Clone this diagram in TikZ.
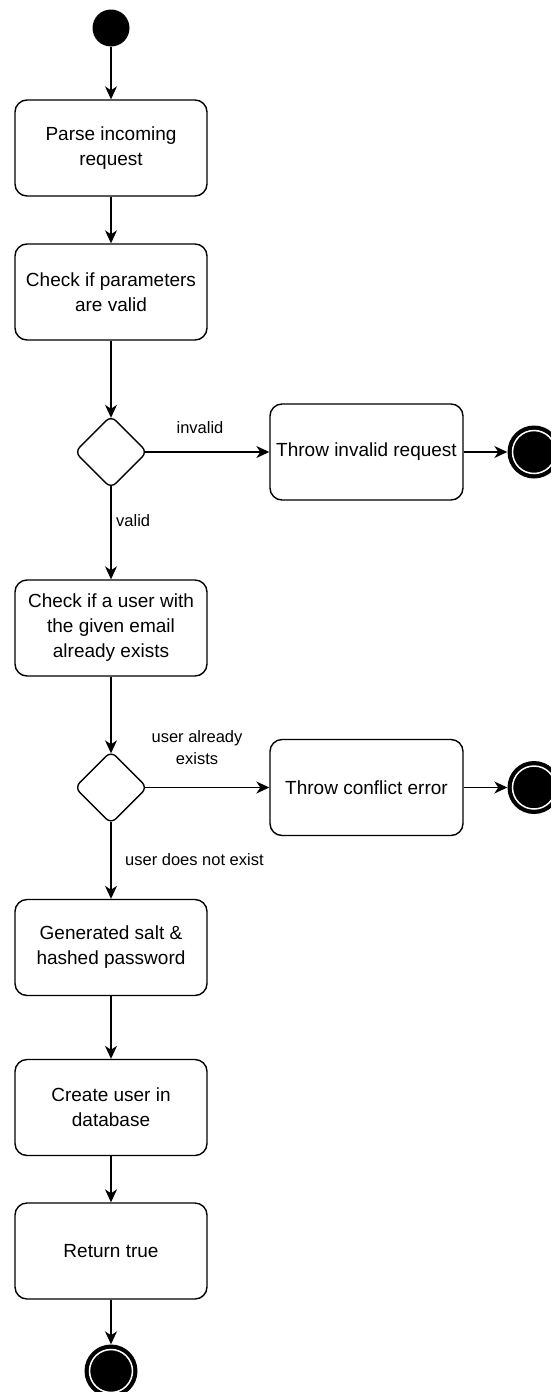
\documentclass[tikz,border=0pt]{standalone}
\usepackage{fontspec}
\setmainfont{Liberation Sans}
\usetikzlibrary{shapes.geometric,arrows.meta}
\begin{document}
\begin{tikzpicture}[x=1pt,y=-1pt,
  action/.style={draw, line width=1.4pt, rounded corners=12pt,
    minimum width=192pt, minimum height=96pt, inner sep=0pt,
    align=center, font=\fontsize{19}{25}\selectfont},
  decision/.style={draw, diamond, line width=1.4pt, rounded corners=7pt,
    minimum width=73pt, minimum height=73pt, inner sep=0pt},
  initial/.style={circle, fill=black, minimum size=37pt, inner sep=0pt},
  final/.style={circle, fill=black, minimum size=53pt, inner sep=0pt},
  flow/.style={line width=1.4pt, -{Stealth[length=13pt, width=12pt, inset=4pt]}},
  guard/.style={font=\fontsize{16.5}{22}\selectfont, align=center, inner sep=0pt}
]
\useasboundingbox (0,0) rectangle (550,1392);

% activity nodes
\node[initial] (start) at (111,28) {};
\node[action] (parse) at (111,148) {Parse incoming\\request};
\node[action] (params) at (111,292) {Check if parameters\\are valid};
\node[decision] (valid) at (111,452) {};
\node[action, minimum width=193pt] (invalid) at (366.5,452) {Throw invalid request};
\node[final] (endA) at (534,452) {};
\node[action] (exists) at (111,628) {Check if a user with\\the given email\\already exists};
\node[decision] (userq) at (111,787.5) {};
\node[action, minimum width=193pt] (conflict) at (366.5,787.5) {Throw conflict error};
\node[final] (endB) at (534,787.5) {};
\node[action] (salt) at (111,947.5) {Generated salt \&\\hashed password};
\node[action] (create) at (111,1107.5) {Create user in\\database};
\node[action] (ret) at (111,1251) {Return true};
\node[final] (endC) at (111,1371) {};

% inner white rings of the final states
\foreach \f in {endA,endB,endC}
  \draw[white, line width=1.5pt] (\f.center) circle (21.5pt);

% control flow
\draw[flow] (start) -- (parse);
\draw[flow] (parse) -- (params);
\draw[flow, shorten >=-3pt] (params) -- (valid);
\draw[flow, shorten <=-3pt] (valid) -- (invalid);
\draw[flow] (invalid) -- (endA);
\draw[flow, shorten <=-3pt] (valid) -- (exists);
\draw[flow, shorten >=-3pt] (exists) -- (userq);
\draw[flow, shorten <=-3pt] (userq) -- (conflict);
\draw[flow] (conflict) -- (endB);
\draw[flow, shorten <=-3pt] (userq) -- (salt);
\draw[flow] (salt) -- (create);
\draw[flow] (create) -- (ret);
\draw[flow] (ret) -- (endC);

% guard labels
\node[guard] (lInvalid) at (200,428) {invalid};
\node[guard, anchor=west] (lValid) at (116,521) {valid};
\node[guard] (lExists) at (197,748) {user already\\exists};
\node[guard, anchor=west] (lNotExist) at (125,860) {user does not exist};
\end{tikzpicture}
\end{document}
